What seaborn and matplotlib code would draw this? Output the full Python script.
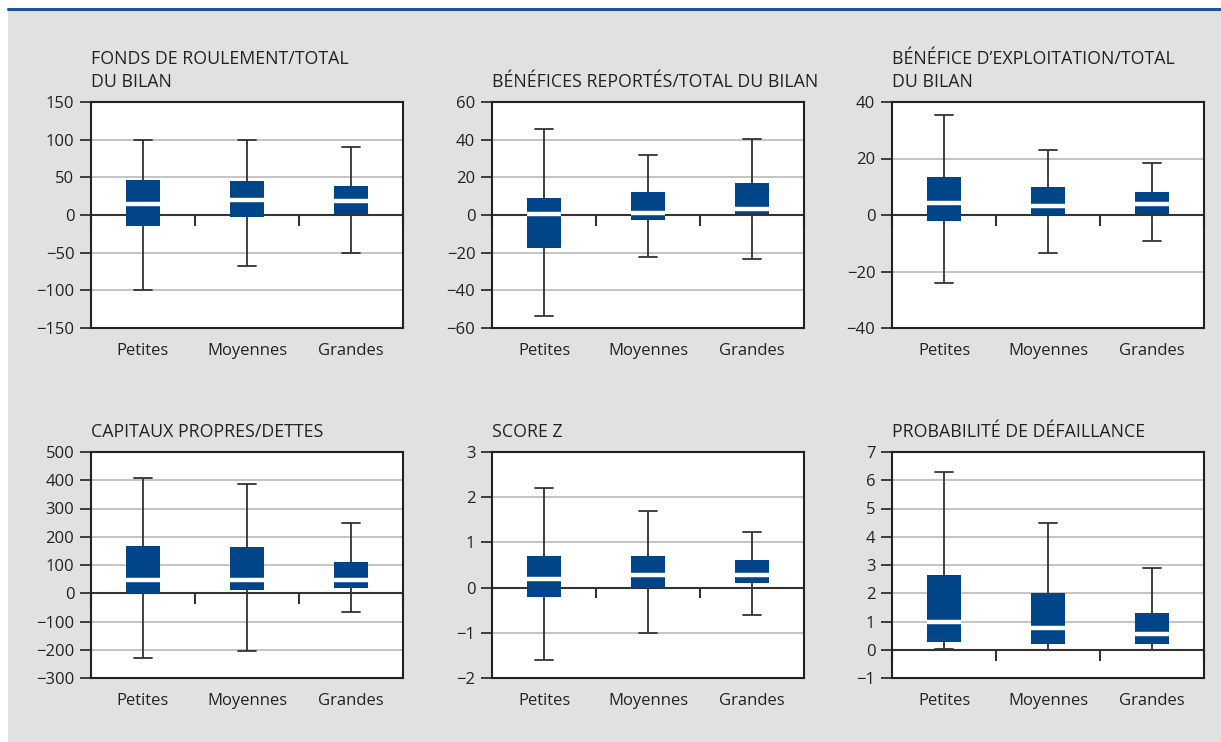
import numpy as np
import pandas as pd
import matplotlib
matplotlib.use("Agg")
import matplotlib.pyplot as plt
from matplotlib.patches import Rectangle
from matplotlib.lines import Line2D
import seaborn as sns

# ---------------- data ----------------
categories = ["Petites", "Moyennes", "Grandes"]

# five-number summaries per size class: [min, Q1, median, Q3, max]
fonds_roulement = [[-100, -14, 15, 46, 100],
                   [-68, -3, 20, 45, 100],
                   [-50, 1, 19, 39, 90]]
benefices_reportes = [[-53.5, -17.5, 0.3, 9, 45.5],
                      [-22.5, -2.5, 1, 12, 32],
                      [-23.5, 0.5, 3.3, 17, 40.5]]
benefice_exploitation = [[-24, -2, 4.2, 13.5, 35.3],
                         [-13.6, 0, 3.2, 9.9, 23],
                         [-9.2, 0.2, 3.9, 8.1, 18.3]]
capitaux_propres = [[-228, 0, 48, 169, 408],
                    [-203, 13, 48, 165, 387],
                    [-65, 17, 47, 112, 247]]
score_z = [[-1.6, -0.21, 0.18, 0.71, 2.2],
           [-1.0, 0.0, 0.28, 0.71, 1.7],
           [-0.6, 0.1, 0.28, 0.62, 1.22]]
proba_defaillance = [[0.02, 0.26, 0.99, 2.66, 6.3],
                     [0.0, 0.22, 0.78, 2.02, 4.5],
                     [0.0, 0.22, 0.57, 1.31, 2.9]]

titles = ["FONDS DE ROULEMENT/TOTAL\nDU BILAN",
          "BÉNÉFICES REPORTÉS/TOTAL DU BILAN",
          "BÉNÉFICE D\u2019EXPLOITATION/TOTAL\nDU BILAN",
          "CAPITAUX PROPRES/DETTES",
          "SCORE Z",
          "PROBABILITÉ DE DÉFAILLANCE"]
y_ticks = [[-150, -100, -50, 0, 50, 100, 150],
           [-60, -40, -20, 0, 20, 40, 60],
           [-40, -20, 0, 20, 40],
           [-300, -200, -100, 0, 100, 200, 300, 400, 500],
           [-2, -1, 0, 1, 2, 3],
           [-1, 0, 1, 2, 3, 4, 5, 6, 7]]
panels = [fonds_roulement, benefices_reportes, benefice_exploitation,
          capitaux_propres, score_z, proba_defaillance]

# ---------------- style ----------------
sns.set_theme(style="white")
plt.rcParams["font.family"] = ["Open Sans", "DejaVu Sans"]

BLUE = "#004587"
BG = "#e1e1e1"
TXT = "#222222"
GRID = "#c4c4c4"

W, H = 1221, 742
fig = plt.figure(figsize=(W / 100, H / 100), dpi=100)
fig.patch.set_facecolor("white")

# grey background panel and blue top rule
fig.add_artist(Rectangle((8 / W, 0), 1 - 8 / W, 1 - 10 / H,
                         transform=fig.transFigure, facecolor=BG,
                         edgecolor="none", zorder=-10))
fig.add_artist(Line2D([8 / W, 1], [1 - 8.5 / H, 1 - 8.5 / H],
                      transform=fig.transFigure, color="#1f5597", lw=2.2))

col_left = [91, 492, 892]
row_top = [102, 452]
ax_w, ax_h = 312, 226

for i, (summ, title, ticks) in enumerate(zip(panels, titles, y_ticks)):
    r, c = divmod(i, 3)
    left = col_left[c] / W
    bottom = 1 - (row_top[r] + ax_h) / H
    ax = fig.add_axes([left, bottom, ax_w / W, ax_h / H])
    ax.set_facecolor("white")

    df = pd.DataFrame({
        "taille": np.repeat(categories, 5),
        "valeur": np.concatenate([np.asarray(s, dtype=float) for s in summ]),
    })

    ymin, ymax = ticks[0], ticks[-1]

    # grid lines (not at the frame or zero)
    for t in ticks:
        if t not in (ymin, ymax, 0):
            ax.axhline(t, color=GRID, lw=1.4, zorder=0)
    # zero line with category separators
    ax.axhline(0, color="#333333", lw=1.5, zorder=1)
    frac = (0 - ymin) / (ymax - ymin)
    ax.vlines([-0.5, 0.5, 1.5, 2.5], frac - 0.048, frac,
              transform=ax.get_xaxis_transform(), color="#333333",
              lw=1.5, zorder=1, clip_on=False)

    sns.boxplot(data=df, x="taille", y="valeur", order=categories,
                whis=(0, 100), width=0.33, showfliers=False,
                color=BLUE, linewidth=1.3, linecolor="#333333",
                boxprops=dict(facecolor=BLUE, edgecolor=BLUE, linewidth=0,
                              zorder=3),
                medianprops=dict(color="white", linewidth=3.2, zorder=4,
                                 solid_capstyle="butt"),
                whiskerprops=dict(color="#333333", linewidth=1.3, zorder=2),
                capprops=dict(color="#333333", linewidth=1.3, zorder=2),
                ax=ax)

    ax.set_xlim(-0.5, 2.5)
    ax.set_ylim(ymin, ymax)
    ax.set_yticks(ticks)
    ax.set_yticklabels([f"{t:d}".replace("-", "\u2212") for t in ticks])
    ax.set_xlabel("")
    ax.set_ylabel("")

    for s in ax.spines.values():
        s.set_visible(True)
        s.set_color("#222222")
        s.set_linewidth(1.5)

    ax.tick_params(axis="y", which="both", left=True, direction="out",
                   length=8, width=1.2, color="#222222", pad=4,
                   labelsize=12, labelcolor=TXT)
    ax.tick_params(axis="x", length=0, pad=11, labelsize=12,
                   labelcolor=TXT)
    ax.grid(False)

    ax.set_title(title, loc="left", pad=11, fontsize=12.8, color=TXT,
                 linespacing=1.35)

fig.savefig("out.png", dpi=100, facecolor=fig.get_facecolor())
